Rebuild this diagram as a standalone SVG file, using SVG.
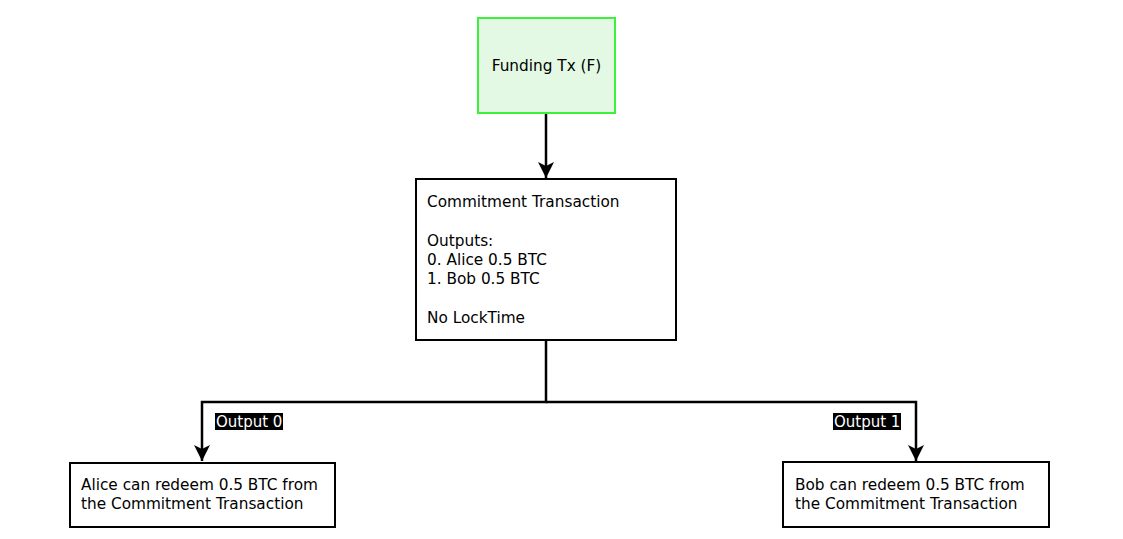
<svg xmlns="http://www.w3.org/2000/svg" width="1123" height="539" viewBox="0 0 1123 539">
<style>
.box{fill:#fff;stroke:#000;stroke-width:2}
.t{font-family:"DejaVu Sans",sans-serif;font-size:15.3px;fill:#000}
.edge{fill:none;stroke:#000;stroke-width:2.5}
.lbl{font-family:"DejaVu Sans",sans-serif;font-size:15px;fill:#fff}
</style>
<defs>
<marker id="arr" markerUnits="userSpaceOnUse" markerWidth="20" markerHeight="20" refX="16" refY="8" orient="auto">
<path d="M0,0 L16,8 L0,16 L4,8 Z" fill="#000"/>
</marker>
</defs>
<rect width="1123" height="539" fill="#fff"/>
<g id="connectors">
<path class="edge" d="M546,114 L546,178" marker-end="url(#arr)"/>
<path class="edge" d="M546,341 L546,402 L202,402 L202,461" marker-end="url(#arr)"/>
<path class="edge" d="M546,402 L916,402 L916,461" marker-end="url(#arr)"/>
<rect x="215" y="413" width="68" height="17" fill="#000"/>
<text class="lbl" x="216" y="427">Output 0</text>
<rect x="833" y="413" width="68" height="17" fill="#000"/>
<text class="lbl" x="834" y="427">Output 1</text>
</g>
<g id="funding">
<rect x="478" y="18" width="137" height="95" fill="#e3f9e3" stroke="#3ef03e" stroke-width="2"/>
<text class="t" x="546.5" y="71" text-anchor="middle">Funding Tx (F)</text>
</g>
<g id="commitment">
<rect class="box" x="416" y="179" width="260" height="161"/>
<text class="t" x="427" y="207">Commitment Transaction</text>
<text class="t" x="427" y="246">Outputs:</text>
<text class="t" x="427" y="265">0. Alice 0.5 BTC</text>
<text class="t" x="427" y="284">1. Bob 0.5 BTC</text>
<text class="t" x="427" y="323">No LockTime</text>
</g>
<g id="alice">
<rect class="box" x="70" y="463" width="265" height="64"/>
<text class="t" x="81" y="490">Alice can redeem 0.5 BTC from</text>
<text class="t" x="81" y="509">the Commitment Transaction</text>
</g>
<g id="bob">
<rect class="box" x="783" y="462" width="266" height="65"/>
<text class="t" x="795" y="490">Bob can redeem 0.5 BTC from</text>
<text class="t" x="795" y="509">the Commitment Transaction</text>
</g>
</svg>
